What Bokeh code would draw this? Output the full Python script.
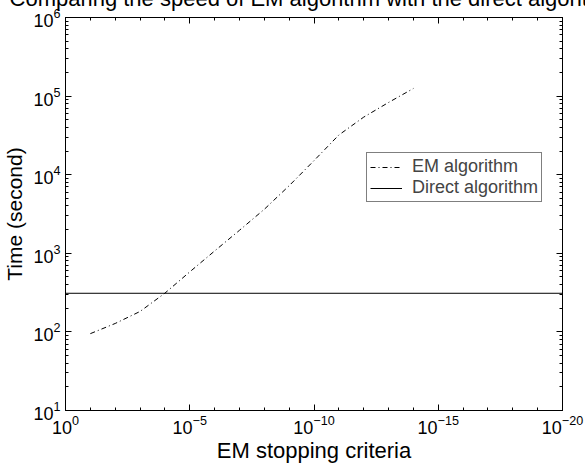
from bokeh.plotting import figure
from bokeh.models import (Range1d, LogAxis, FixedTicker, Legend, LegendItem,
                          CustomJSTickFormatter)
from bokeh.embed import file_html
from bokeh.resources import INLINE

# ---------------- data ----------------
title_text = "Comparing the speed of EM algorithm with the direct algorithm"
x_label = "EM stopping criteria"
y_label = "Time (second)"

em_x = [1e-1, 1e-2, 1e-3, 1e-4, 1e-5, 1e-6, 1e-7, 1e-8, 1e-9, 1e-10,
        1e-11, 1e-12, 1e-13, 1e-14]
em_y = [95, 128, 182, 311, 580, 1070, 1960, 3630, 7240, 15100,
        32000, 54000, 83000, 125000]

direct_x = [1e0, 1e-20]
direct_y = [310, 310]

x_major = [1e0, 1e-5, 1e-10, 1e-15, 1e-20]
x_minor = [10.0 ** -k for k in range(0, 21)]
y_major = [1e1, 1e2, 1e3, 1e4, 1e5, 1e6]
y_minor = [m * 10.0 ** e for e in range(1, 6) for m in range(2, 10)]

FONT = "Liberation Sans"

p = figure(width=585, height=465, x_axis_type="log", y_axis_type="log",
           x_range=Range1d(1e0, 1e-20), y_range=Range1d(1e1, 1e6),
           output_backend="svg", toolbar_location=None,
           min_border_left=62, min_border_right=23,
           min_border_top=17, min_border_bottom=53)
p.grid.visible = False
p.outline_line_color = "black"
p.outline_line_width = 1
p.background_fill_color = "white"
p.border_fill_color = "white"

p.title.text = title_text
p.title.align = "center"
p.title.vertical_align = "top"
p.title.text_font = FONT
p.title.text_font_size = "22px"
p.title.text_font_style = "normal"
p.title.text_color = "black"
p.title.standoff = -64


def style_axis(ax, show_labels=True):
    ax.axis_line_color = "black"
    ax.major_tick_line_color = "black"
    ax.minor_tick_line_color = "black"
    ax.major_tick_in = 6
    ax.major_tick_out = 0
    ax.minor_tick_in = 3
    ax.minor_tick_out = 0
    if show_labels:
        ax.major_label_text_font = FONT
        ax.major_label_text_font_size = "18px"
        ax.major_label_text_color = "black"
        ax.axis_label_text_font = FONT
        ax.axis_label_text_font_style = "normal"
        ax.axis_label_text_color = "black"


xa = p.xaxis[0]
xa.ticker = FixedTicker(ticks=x_major, minor_ticks=x_minor)
xa.axis_label = x_label
style_axis(xa)
xa.axis_label_text_font_size = "22px"
xa.major_label_standoff = 4
xa.axis_label_standoff = 1

ya = p.yaxis[0]
ya.ticker = FixedTicker(ticks=y_major, minor_ticks=y_minor)
ya.axis_label = y_label
style_axis(ya)
ya.axis_label_text_font_size = "21px"
ya.major_label_standoff = 5
ya.axis_label_standoff = 4

blank = CustomJSTickFormatter(code="return ''")
top = LogAxis(ticker=FixedTicker(ticks=x_major, minor_ticks=x_minor),
              formatter=blank, major_label_standoff=0,
              major_label_text_font_size="1px")
style_axis(top, show_labels=False)
p.add_layout(top, "above")
right = LogAxis(ticker=FixedTicker(ticks=y_major, minor_ticks=y_minor),
                formatter=blank, major_label_standoff=0,
                major_label_text_font_size="1px")
style_axis(right, show_labels=False)
p.add_layout(right, "right")

r_em = p.line(em_x, em_y, line_color="black", line_width=1,
              line_dash="5 3 1 3")
r_dir = p.line(direct_x, direct_y, line_color="black", line_width=1)

legend = Legend(items=[LegendItem(label="EM algorithm", renderers=[r_em]),
                       LegendItem(label="Direct algorithm", renderers=[r_dir])],
                location=(301, 208), orientation="vertical",
                label_text_font=FONT, label_text_font_size="18px",
                label_text_line_height=1.0,
                glyph_width=32, glyph_height=16, label_height=16,
                label_standoff=10, padding=3, spacing=0, margin=0,
                border_line_color="black", border_line_width=1,
                background_fill_color="white", background_fill_alpha=1)
p.add_layout(legend, "center")

open("out.html", "w").write(file_html(p, INLINE))
